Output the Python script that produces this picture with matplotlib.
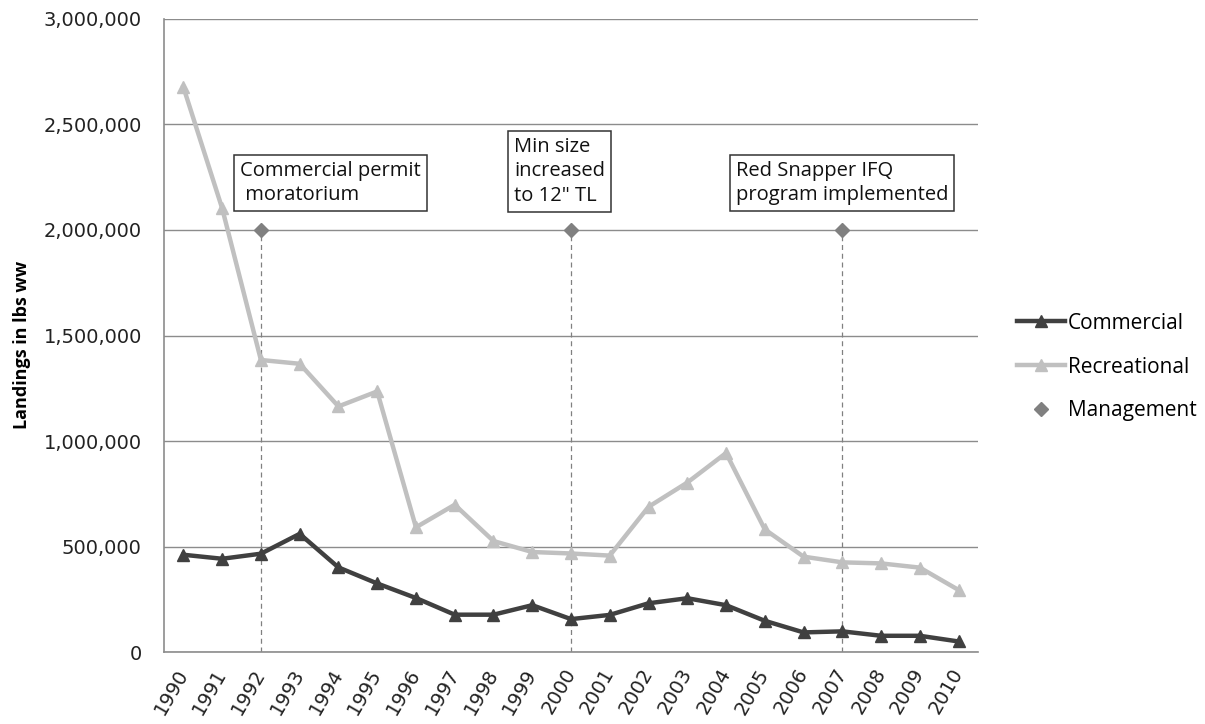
import matplotlib
matplotlib.use("Agg")
import matplotlib.pyplot as plt
from matplotlib.ticker import FuncFormatter
from matplotlib.lines import Line2D

years = [str(y) for y in range(1990, 2011)]
commercial = [461000, 442000, 466000, 560000, 401000, 325000, 256000, 177000, 177000, 222000,
              156000, 176000, 231000, 255000, 222000, 148000, 93000, 98000, 77000, 77000, 50000]
recreational = [2677000, 2103000, 1384000, 1366000, 1164000, 1235000, 591000, 698000, 526000, 474000,
                467000, 457000, 688000, 803000, 943000, 581000, 452000, 425000, 420000, 400000, 294000]
mgmt_years = ["1992", "2000", "2007"]
mgmt_values = [2000000, 2000000, 2000000]
mgmt_labels = ["Commercial permit\n moratorium", "Min size\nincreased\nto 12\" TL",
               "Red Snapper IFQ\nprogram implemented"]
yticks = [0, 500000, 1000000, 1500000, 2000000, 2500000, 3000000]

fig = plt.figure(figsize=(12.05, 7.24), dpi=100)
ax = fig.add_axes([0.1361, 0.0994, 0.6755, 0.8744])

x = list(range(len(years)))
mx = [years.index(y) for y in mgmt_years]

ax.set_ylim(0, 3000000)
ax.set_xlim(-0.5, len(years) - 0.5)
ax.set_yticks(yticks)
ax.yaxis.set_major_formatter(FuncFormatter(lambda v, p: f"{int(v):,}"))
ax.grid(axis="y", color="#8c8c8c", linewidth=1.0)
ax.set_axisbelow(True)
for s in ["top", "right"]:
    ax.spines[s].set_visible(False)
for s in ["left", "bottom"]:
    ax.spines[s].set_color("#8c8c8c")
    ax.spines[s].set_linewidth(1.2)
ax.tick_params(axis="y", length=0, pad=16)
ax.tick_params(axis="x", length=0, pad=13)

for xi, v in zip(mx, mgmt_values):
    ax.plot([xi, xi], [0, v], color="#808080", linestyle=(0, (4, 3)), linewidth=0.9, zorder=1)

ax.plot(x, recreational, color="#c0c0c0", linewidth=3.2, marker="^", markersize=8, zorder=3)
ax.plot(x, commercial, color="#404040", linewidth=3.2, marker="^", markersize=8, zorder=4)
ax.plot(mx, mgmt_values, linestyle="none", marker="D", color="#808080", markersize=7.5, zorder=5)

ax.set_xticks(x)
ax.set_xticklabels(years, rotation=60, ha="right", va="center", rotation_mode="anchor",
                   fontsize=14, family="DejaVu Sans", color="#222222")
for lbl in ax.get_yticklabels():
    lbl.set_fontsize(14)
    lbl.set_family("DejaVu Sans")
    lbl.set_color("#222222")

ax.set_ylabel("Landings in lbs ww", fontsize=13, fontweight="bold", family="Open Sans")
ax.yaxis.set_label_coords(-0.163, 0.485)

label_pos = [(1.47, 2327000), (8.53, 2441000), (14.25, 2327000)]
for (tx, ty), txt in zip(label_pos, mgmt_labels):
    ax.text(tx, ty, txt, fontsize=14.5, family="Open Sans", va="top", ha="left", color="#111111",
            linespacing=1.29,
            bbox=dict(boxstyle="square,pad=0.3", facecolor="white", edgecolor="#333333", linewidth=1.1),
            zorder=6)

handles = [
    Line2D([], [], color="#404040", linewidth=3.2, marker="^", markersize=8),
    Line2D([], [], color="#c0c0c0", linewidth=3.2, marker="^", markersize=8),
    Line2D([], [], color="#808080", linestyle="none", marker="D", markersize=7.5),
]
fig.legend(handles, ["Commercial", "Recreational", "Management"], loc="center left",
           bbox_to_anchor=(0.8285, 0.493), frameon=False, prop={"family": "Open Sans", "size": 15},
           handlelength=2.3, handletextpad=0.15, labelspacing=1.1)

fig.savefig("out.png", dpi=100, facecolor="white")
